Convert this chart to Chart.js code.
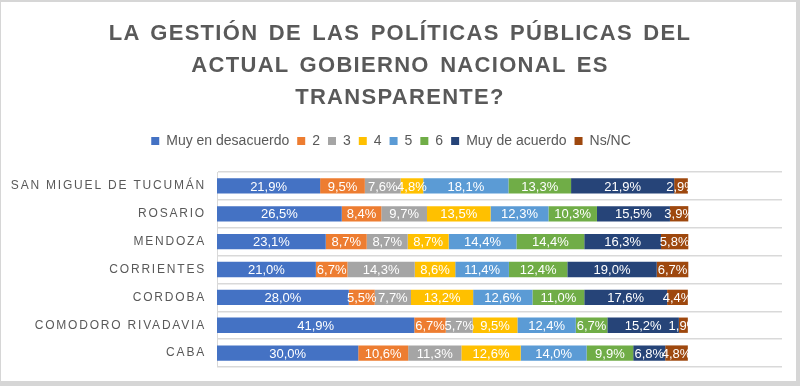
<!DOCTYPE html>
<html>
<head>
<meta charset="utf-8">
<script src="https://cdn.jsdelivr.net/npm/chart.js@4/dist/chart.umd.min.js"></script>
<style>
  html,body{margin:0;padding:0;background:#fff;}
  #wrap{position:relative;width:800px;height:386px;overflow:hidden;}
  #grafico{position:absolute;left:0;top:0;}
  #titulo{position:absolute;left:0;top:17px;width:800px;text-align:center;
    font:bold 22px "Liberation Sans",Arial,sans-serif;color:#595959;
    letter-spacing:1.3px;word-spacing:3px;line-height:32px;}
  #marco{position:absolute;left:0;top:0;width:800px;height:386px;box-sizing:border-box;
    border-style:solid;border-color:#d6d6d6;border-width:2px 4px 5px 1px;pointer-events:none;}
</style>
</head>
<body>
<div id="wrap">
  <canvas id="grafico" width="800" height="386"></canvas>
  <div id="titulo">LA GESTIÓN DE LAS POLÍTICAS PÚBLICAS DEL<br>ACTUAL GOBIERNO NACIONAL ES<br>TRANSPARENTE?</div>
  <div id="marco"></div>
</div>
<script>
// DATOS
const ciudades = ["SAN MIGUEL DE TUCUMÁN","ROSARIO","MENDOZA","CORRIENTES","CORDOBA","COMODORO RIVADAVIA","CABA"];
const respuestas = ["Muy en desacuerdo","2","3","4","5","6","Muy de acuerdo","Ns/NC"];
const colores = ["#4472C4","#ED7D31","#A5A5A5","#FFC000","#5B9BD5","#70AD47","#264478","#9E480E"];

// un array por respuesta, en el orden de ciudades
const muyDesacuerdo = [21.9, 26.5, 23.1, 21.0, 28.0, 41.9, 30.0];
const r2            = [ 9.5,  8.4,  8.7,  6.7,  5.5,  6.7, 10.6];
const r3            = [ 7.6,  9.7,  8.7, 14.3,  7.7,  5.7, 11.3];
const r4            = [ 4.8, 13.5,  8.7,  8.6, 13.2,  9.5, 12.6];
const r5            = [18.1, 12.3, 14.4, 11.4, 12.6, 12.4, 14.0];
const r6            = [13.3, 10.3, 14.4, 12.4, 11.0,  6.7,  9.9];
const muyAcuerdo    = [21.9, 15.5, 16.3, 19.0, 17.6, 15.2,  6.8];
const nsnc          = [ 2.9,  3.9,  5.8,  6.7,  4.4,  1.9,  4.8];
const series = [muyDesacuerdo, r2, r3, r4, r5, r6, muyAcuerdo, nsnc];

const fuente = '"Liberation Sans", Arial, sans-serif';
const gris = "#595959";

// Eje de categorias con espaciado entre letras
class EjeEspaciado extends Chart.CategoryScale {
    drawLabels(area){
        this.ctx.save();
        this.ctx.letterSpacing = "1.8px";
        super.drawLabels(area);
        this.ctx.restore();
    }
}
EjeEspaciado.id = "ejeEspaciado";
Chart.register(EjeEspaciado);

// Etiquetas blancas dentro de cada tramo
const etiquetas = {
    id: "etiquetas",
    afterDatasetsDraw(chart){
        const ctx = chart.ctx;
        ctx.save();
        ctx.font = "13px " + fuente;
        ctx.fillStyle = "#fff";
        ctx.textAlign = "center";
        ctx.textBaseline = "middle";
        chart.data.datasets.forEach((ds, i) => {
            chart.getDatasetMeta(i).data.forEach((bar, j) => {
                const p = bar.getProps(["x","y","base"], true);
                const txt = ds.data[j].toFixed(1).replace(".", ",") + "%";
                ctx.fillText(txt, (p.x + p.base) / 2, p.y + 1);
            });
        });
        ctx.restore();
    }
};

// Espacio extra debajo de la leyenda
const margenLeyenda = {
    id: "margenLeyenda",
    beforeInit(chart){
        const fitOrig = chart.legend.fit;
        chart.legend.fit = function(){
            fitOrig.bind(chart.legend)();
            this.height += 14;
        };
    }
};

new Chart(document.getElementById("grafico"), {
    type: "bar",
    data: {
        labels: ciudades,
        datasets: respuestas.map((r, i) => ({
            label: r,
            data: series[i],
            backgroundColor: colores[i],
            barPercentage: 0.55,
            categoryPercentage: 1
        }))
    },
    options: {
        indexAxis: "y",
        responsive: false,
        animation: false,
        layout: { padding: { top: 126, right: 18, bottom: 19, left: 0 } },
        plugins: {
            title: { display: false },
            tooltip: { enabled: false },
            legend: {
                position: "top",
                labels: {
                    boxWidth: 8, boxHeight: 8, padding: 8,
                    color: gris,
                    font: { family: fuente, size: 14 }
                }
            }
        },
        scales: {
            x: { stacked: true, min: 0, max: 120, display: false },
            y: {
                type: "ejeEspaciado",
                stacked: true,
                afterFit: s => { s.width = 217; },
                grid: { offset: true, drawTicks: false, color: "#d9d9d9", lineWidth: 1.5 },
                border: { display: true, color: "#d9d9d9" },
                ticks: { color: gris, padding: 11, font: { family: fuente, size: 12 } }
            }
        }
    },
    plugins: [etiquetas, margenLeyenda]
});
</script>
</body>
</html>
